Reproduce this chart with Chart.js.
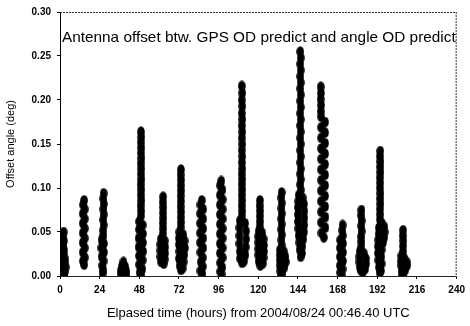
<!DOCTYPE html>
<html>
<head>
<meta charset="utf-8">
<script src="https://cdn.jsdelivr.net/npm/chart.js@4.4.1/dist/chart.umd.min.js"></script>
<style>
  html, body { margin: 0; padding: 0; background: #fff; }
  #wrap { width: 470px; height: 326px; }
</style>
</head>
<body>
<div id="wrap"><canvas id="offsetChart" width="470" height="326"></canvas></div>
<script>
// each pass: [elapsed hours, offset angle (deg)]
var pass01 = [[2.2,0.050],[2.0,0.045],[2.3,0.040],[2.1,0.035],[2.4,0.030],[2.2,0.025],[1.0,0.021],[2.8,0.020],[0.8,0.016],[3.2,0.015],[2.0,0.014],[1.0,0.011],[3.4,0.010],[0.8,0.006],[3.0,0.005],[2.0,0.006],[1.2,0.002],[2.6,0.001]];
var pass02 = [[14.6,0.086],[14.0,0.081],[15.0,0.076],[13.8,0.071],[15.0,0.065],[13.8,0.060],[15.0,0.054],[13.8,0.049],[15.0,0.043],[13.8,0.038],[15.0,0.032],[13.8,0.027],[15.0,0.021],[13.9,0.017],[14.6,0.013]];
var pass03 = [[26.4,0.094],[26.2,0.088],[26.5,0.082],[26.3,0.076],[26.5,0.070],[26.2,0.064],[26.4,0.058],[26.1,0.052],[26.3,0.046],[25.2,0.041],[26.6,0.037],[25.0,0.032],[26.6,0.027],[25.2,0.022],[26.4,0.017],[25.6,0.012],[26.2,0.007],[25.8,0.003]];
var pass04 = [[38.4,0.016],[37.4,0.011],[39.4,0.011],[36.8,0.006],[38.4,0.006],[40.0,0.006],[37.0,0.002],[38.6,0.002],[40.2,0.002]];
var pass05 = [[49.0,0.164],[49.2,0.158],[48.9,0.152],[49.2,0.146],[49.0,0.140],[49.3,0.134],[48.9,0.128],[49.2,0.122],[49.0,0.116],[49.3,0.110],[48.8,0.104],[49.2,0.098],[48.9,0.092],[49.3,0.086],[48.8,0.080],[49.2,0.074],[48.9,0.068],
  [47.9,0.062],[50.0,0.058],[47.8,0.053],[50.2,0.048],[47.6,0.043],[50.2,0.038],[47.6,0.033],[50.3,0.028],[47.8,0.023],[50.0,0.018],[47.9,0.013],[49.8,0.008],[48.2,0.004],[49.2,0.001]];
var pass06 = [[62.4,0.090],[62.2,0.084],[62.5,0.078],[62.3,0.072],[62.5,0.066],[62.2,0.060],[62.4,0.054],[62.2,0.048],[61.0,0.042],[63.4,0.040],[60.8,0.036],[63.6,0.033],[60.8,0.029],[63.6,0.026],[60.8,0.022],[63.4,0.019],[61.2,0.016],[62.8,0.014]];
var pass07 = [[73.2,0.121],[73.0,0.115],[73.3,0.109],[73.1,0.103],[73.3,0.097],[73.0,0.091],[73.2,0.085],[73.0,0.079],[73.3,0.073],[73.1,0.067],[73.3,0.061],[73.0,0.055],[72.2,0.050],[74.6,0.047],[72.0,0.043],[75.4,0.040],[72.0,0.036],[75.6,0.032],[72.2,0.028],[75.2,0.024],[72.0,0.020],[74.8,0.016],[72.4,0.012],[74.2,0.009],[73.2,0.007]];
var pass08 = [[85.8,0.086],[85.0,0.081],[86.6,0.076],[84.8,0.071],[86.6,0.065],[84.8,0.060],[86.6,0.054],[84.8,0.049],[86.6,0.043],[84.8,0.038],[86.6,0.032],[85.0,0.027],[86.4,0.021],[85.2,0.016],[86.4,0.011],[85.0,0.006],[86.2,0.002]];
var pass09 = [[97.6,0.108],[96.9,0.103],[98.3,0.098],[96.8,0.092],[98.4,0.087],[96.8,0.081],[98.4,0.076],[96.8,0.070],[98.4,0.065],[96.8,0.059],[98.4,0.054],[96.8,0.048],[98.4,0.043],[96.8,0.037],[98.4,0.032],[96.8,0.026],[98.4,0.021],[96.9,0.015],[98.2,0.010],[97.0,0.005],[97.8,0.002]];
var pass10 = [[110.0,0.216],[110.3,0.208],[110.0,0.200],[110.3,0.193],[110.0,0.185],[110.3,0.178],[110.0,0.171],[110.3,0.164],[110.0,0.157],[110.3,0.150],[110.0,0.143],[110.3,0.136],[110.0,0.129],[110.3,0.122],[110.0,0.116],[110.3,0.110],[110.0,0.104],[110.3,0.098],[110.0,0.092],[110.3,0.086],[110.0,0.080],[110.3,0.074],[110.0,0.068],
  [108.8,0.063],[112.0,0.060],[108.6,0.055],[112.6,0.051],[108.6,0.046],[112.6,0.042],[108.6,0.037],[112.4,0.033],[108.8,0.028],[112.2,0.024],[109.0,0.020],[111.4,0.017],[110.2,0.015]];
var pass11 = [[121.0,0.086],[120.8,0.080],[121.1,0.074],[120.9,0.068],[121.1,0.062],[120.8,0.056],[120.2,0.051],[122.4,0.049],[120.0,0.045],[123.2,0.042],[120.0,0.038],[123.4,0.035],[120.0,0.031],[123.4,0.028],[120.0,0.024],[123.2,0.021],[120.2,0.017],[122.6,0.014],[121.2,0.012]];
var pass12 = [[134.1,0.095],[133.9,0.089],[134.2,0.083],[134.0,0.077],[134.2,0.071],[133.9,0.065],[134.1,0.059],[133.9,0.053],[134.2,0.047],[134.0,0.041],[134.1,0.035],[133.2,0.030],[135.4,0.028],[133.0,0.024],[136.4,0.022],[133.0,0.018],[136.6,0.016],[133.2,0.012],[135.8,0.010],[133.4,0.006],[134.6,0.003],[133.6,0.001]];
var pass13 = [[145.4,0.255],[145.7,0.248],[145.4,0.241],[145.7,0.234],[145.4,0.227],[145.7,0.220],[145.4,0.213],[145.7,0.206],[145.4,0.199],[145.7,0.192],[145.4,0.185],[145.7,0.178],[145.4,0.171],[145.7,0.164],[145.4,0.157],[145.7,0.150],[145.4,0.143],[145.7,0.136],[145.4,0.129],[145.7,0.122],[145.4,0.116],[145.7,0.110],[145.4,0.104],[145.7,0.098],
  [144.4,0.092],[146.8,0.089],[144.2,0.085],[147.6,0.082],[144.0,0.078],[147.8,0.074],[144.0,0.070],[147.8,0.066],[144.0,0.062],[147.8,0.058],[144.2,0.054],[147.6,0.050],[144.4,0.046],[147.2,0.042],[144.8,0.038],[146.6,0.034],[145.0,0.030],[146.4,0.026],[145.6,0.022]];
var pass14 = [[157.8,0.215],[157.9,0.208],[157.7,0.201],[158.0,0.194],[157.8,0.187],
  [158.0,0.181],[160.4,0.175],[158.0,0.169],[160.4,0.163],[158.0,0.157],[160.4,0.151],[158.0,0.145],[160.4,0.139],[158.0,0.133],[160.4,0.127],[158.0,0.121],[160.4,0.115],[158.0,0.109],[160.4,0.103],[158.0,0.097],[160.4,0.091],[158.0,0.085],[160.4,0.079],[158.0,0.073],[160.6,0.067],[158.0,0.061],[160.6,0.055],[158.2,0.049],[159.6,0.044]];
var pass15 = [[171.0,0.058],[170.8,0.052],[171.1,0.046],[169.6,0.041],[171.2,0.037],[169.4,0.032],[171.2,0.027],[169.4,0.022],[171.2,0.017],[169.4,0.012],[171.0,0.008],[169.6,0.004],[170.4,0.001]];
var pass16 = [[182.4,0.075],[182.2,0.069],[182.5,0.063],[182.3,0.057],[182.5,0.051],[182.2,0.045],[182.4,0.039],[182.2,0.033],[181.4,0.028],[183.8,0.026],[181.2,0.022],[185.0,0.020],[181.2,0.016],[185.2,0.014],[181.4,0.010],[184.6,0.008],[182.2,0.006],[183.4,0.005]];
var pass17 = [[193.8,0.142],[193.6,0.136],[193.9,0.130],[193.7,0.124],[193.9,0.118],[193.6,0.112],[193.8,0.106],[193.6,0.100],[193.9,0.094],[193.7,0.088],[193.9,0.082],[193.6,0.076],[193.8,0.070],[193.6,0.064],[194.8,0.060],[196.2,0.056],[193.0,0.055],[196.4,0.050],[192.8,0.048],[196.2,0.044],[192.6,0.041],[195.4,0.038],[192.4,0.034],[194.6,0.030],[192.4,0.026],[194.4,0.022],[192.6,0.018],[194.6,0.014],[193.0,0.010],[194.2,0.006],[193.4,0.004]];
var pass18 = [[207.6,0.052],[207.4,0.046],[207.7,0.040],[207.5,0.034],[207.6,0.028],[206.6,0.023],[208.4,0.020],[206.4,0.017],[209.8,0.016],[206.6,0.012],[210.0,0.012],[206.8,0.007],[208.6,0.006],[207.0,0.002],[207.8,0.001]];

var xTicks = [0, 24, 48, 72, 96, 120, 144, 168, 192, 216, 240];
var yTicks = [0.00, 0.05, 0.10, 0.15, 0.20, 0.25, 0.30];
var chartTitle = 'Antenna offset btw. GPS OD predict and angle OD predict';
var xTitle = 'Elpased time (hours) from 2004/08/24 00:46.40 UTC';
var yTitle = 'Offset angle (deg)';

var passes = [pass01, pass02, pass03, pass04, pass05, pass06, pass07, pass08, pass09,
              pass10, pass11, pass12, pass13, pass14, pass15, pass16, pass17, pass18];
var points = [];
passes.forEach(function (p) {
    p.forEach(function (pt) { points.push({ x: pt[0], y: pt[1] }); });
});

var FONT = '"Liberation Sans", Arial, sans-serif';

// the scanned markers are blobby, slightly taller than wide
var marker = document.createElement('canvas');
marker.width = 8;
marker.height = 11;
(function () {
    var m = marker.getContext('2d');
    m.fillStyle = '#000';
    m.beginPath();
    m.ellipse(4, 5.5, 3.8, 5.3, 0, 0, Math.PI * 2);
    m.fill();
})();

// dotted top / right frame + the title text inside the plot
var framePlugin = {
    id: 'frame',
    afterDraw: function (chart) {
        var ctx = chart.ctx;
        var a = chart.chartArea;
        ctx.save();
        ctx.strokeStyle = '#333';
        ctx.lineWidth = 1;
        ctx.setLineDash([2, 1]);
        ctx.beginPath();
        ctx.moveTo(a.left, a.top + 0.5);
        ctx.lineTo(a.right, a.top + 0.5);
        ctx.moveTo(a.right - 0.5, a.top);
        ctx.lineTo(a.right - 0.5, a.bottom);
        ctx.stroke();
        ctx.setLineDash([]);

        // title stretched to run across the plot like the original
        ctx.fillStyle = '#000';
        ctx.font = '15px ' + FONT;
        ctx.textBaseline = 'alphabetic';
        var w = ctx.measureText(chartTitle).width;
        var target = a.right - a.left - 3;
        ctx.translate(a.left + 2, a.top + 30);
        ctx.scale(target / w, 1);
        ctx.fillText(chartTitle, 0, 0);
        ctx.restore();
    }
};

new Chart(document.getElementById('offsetChart').getContext('2d'), {
    type: 'scatter',
    data: {
        datasets: [{
            data: points,
            backgroundColor: '#000',
            borderColor: '#000',
            borderWidth: 0,
            pointStyle: marker,
            pointRadius: 4,
            pointHoverRadius: 4
        }]
    },
    options: {
        responsive: false,
        animation: false,
        events: [],
        layout: { padding: { top: 9, right: 10, bottom: 2, left: 0 } },
        plugins: { legend: { display: false }, tooltip: { enabled: false } },
        scales: {
            x: {
                type: 'linear',
                min: 0,
                max: 240,
                afterFit: function (scale) { scale.height = 48; },
                afterBuildTicks: function (scale) {
                    scale.ticks = xTicks.map(function (v) { return { value: v }; });
                },
                ticks: {
                    color: '#000',
                    font: { family: FONT, size: 10, weight: 'bold' },
                    padding: 5,
                    maxRotation: 0,
                    callback: function (v) { return String(v); }
                },
                grid: { display: true, drawOnChartArea: false, drawTicks: true, tickLength: 3, color: '#000' },
                border: { display: true, color: '#222', dash: [2, 1], width: 1 },
                title: { display: true, text: xTitle, color: '#000', font: { family: FONT, size: 13 }, padding: { top: 4, bottom: 3 } }
            },
            y: {
                type: 'linear',
                min: 0,
                max: 0.30,
                afterFit: function (scale) { scale.width = 60; },
                afterBuildTicks: function (scale) {
                    scale.ticks = yTicks.map(function (v) { return { value: v }; });
                },
                ticks: {
                    color: '#000',
                    font: { family: FONT, size: 10, weight: 'bold' },
                    padding: 6,
                    callback: function (v) { return Number(v).toFixed(2); }
                },
                grid: { display: true, drawOnChartArea: false, drawTicks: true, tickLength: 3, color: '#000' },
                border: { display: true, color: '#000', width: 1 },
                title: { display: true, text: yTitle, color: '#000', font: { family: FONT, size: 11 }, padding: { top: 4, bottom: 4 } }
            }
        }
    },
    plugins: [framePlugin]
});
</script>
</body>
</html>
